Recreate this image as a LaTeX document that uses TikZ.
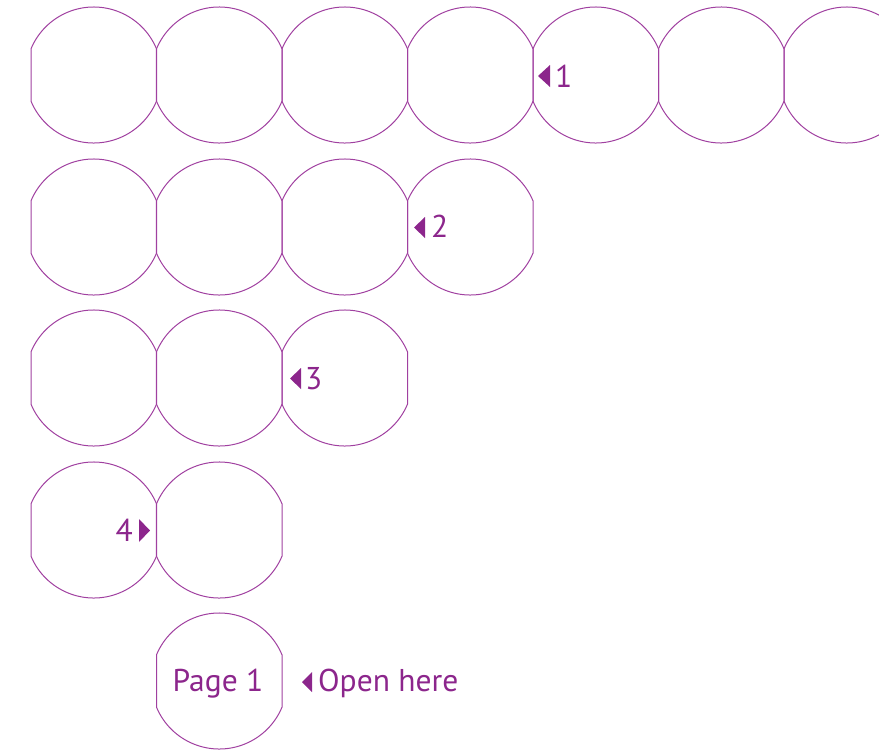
\documentclass[tikz,border=0pt]{standalone}
\usepackage{fontspec}
\setmainfont{PT Sans}
\definecolor{plum}{RGB}{140,38,140}
\definecolor{plumline}{RGB}{160,64,160}

\tikzset{
leafline/.style={draw=plumline, line width=1pt},
% one page: a circle cut flat on both sides
leaf/.pic={
\draw[leafline] (22.66:68) arc[start angle=22.66, end angle=157.34, radius=68]
  -- (202.66:68) arc[start angle=202.66, end angle=337.34, radius=68] -- cycle;
}
}

\begin{document}
\begin{tikzpicture}[
x=1pt, y=1pt,
tagtext/.style={text=plum, inner sep=0pt, font=\fontsize{31.5}{31.5}\selectfont},
flag/.style={fill=plum}
]
\clip (0,0) rectangle (879,-753);

% rows of pages
\foreach \y/\n in {75/7, 227/4, 378/3, 530/2}{
  \foreach \i in {1,...,\n}
    \pic at ({93.75+125.5*(\i-1)},-\y) {leaf};
}
\pic at (219.25,-681) {leaf};

% fold marks
\node[tagtext, anchor=base west] (fold1) at (555,-87) {1};
\fill[flag] (538,-76) -- (550,-65) -- (550,-87) -- cycle;

\node[tagtext, anchor=base west] (fold2) at (431,-237) {2};
\fill[flag] (414,-227.5) -- (425,-217) -- (425,-238) -- cycle;

\node[tagtext, anchor=base west] (fold3) at (305,-389) {3};
\fill[flag] (290,-378.5) -- (301,-368) -- (301,-389) -- cycle;

\node[tagtext, anchor=base east] (fold4) at (133,-541) {4};
\fill[flag] (150,-530.5) -- (139,-519) -- (139,-542) -- cycle;

\node[tagtext, anchor=base] (page1) at (218,-691) {Page 1};
\node[tagtext, anchor=base west] (openhere) at (318,-691) {Open here};
\fill[flag] (302,-682) -- (312,-672) -- (312,-692) -- cycle;

\end{tikzpicture}
\end{document}
